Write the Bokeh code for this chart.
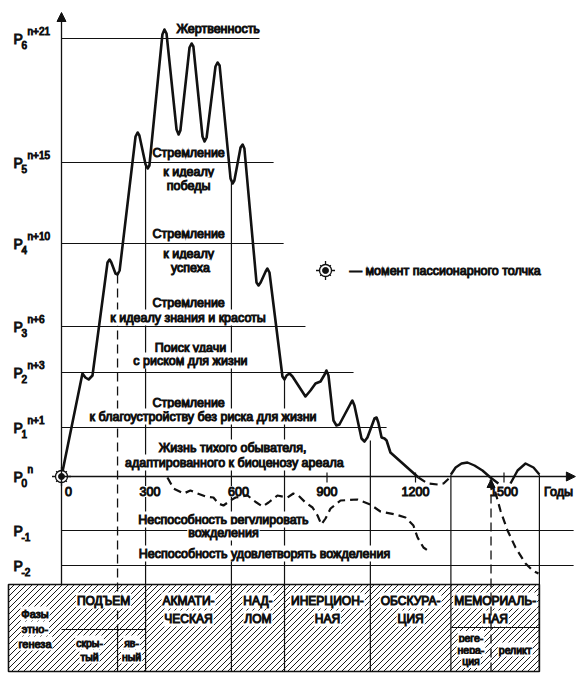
from bokeh.plotting import figure
from bokeh.models import Range1d, Arrow, NormalHead
from bokeh.core.properties import value
from bokeh.embed import file_html
from bokeh.resources import INLINE

FONT = "Liberation Sans"
INK = "#111111"

# ------------------------------------------------------------------ data
# passionarity levels (level units, P0 = 0)
level_sub = ["6", "5", "4", "3", "2", "1", "0", "-1", "-2"]
level_sup = ["n+21", "n+15", "n+10", "n+6", "n+3", "n+1", "n", "", ""]
level_y = [438, 314, 233, 150, 104, 49, 0, -54, -89]
level_end = [671, 719, 753, 827, 990, 1102, 1742, 1736, 1736]

tick_years = [0, 300, 600, 900, 1200, 1500]
tick_labels = ["0", "300", "600", "900", "1200", "1500"]

# main passionarity curve
curve_years = [0, 71, 81, 92, 105, 156, 163, 169, 183, 190, 197, 251, 258, 264,
               285, 292, 298, 342, 349, 356, 390, 397, 403, 434, 441, 447,
               478, 485, 492, 522, 529, 536, 573, 580, 586, 607, 614, 620,
               661, 668, 675, 692, 698, 705, 749, 756, 763, 773, 783,
               827, 844, 861, 878, 892, 898, 905, 922, 932, 942,
               980, 986, 993, 1017, 1027, 1037, 1061, 1068, 1074,
               1085, 1095, 1102, 1115, 1210]
curve_level = [0, 103, 99, 97, 101, 214, 217, 214, 203, 202, 206, 340, 344, 341,
               312, 308, 311, 442, 447, 443, 347, 342, 346, 429, 433, 430,
               340, 335, 339, 410, 414, 411, 298, 293, 296, 329, 332, 328,
               194, 191, 194, 205, 208, 204, 100, 97, 101, 103, 100,
               80, 86, 93, 95, 102, 106, 101, 56, 51, 52,
               73, 76, 71, 38, 35, 39, 58, 59, 54,
               39, 38, 36, 24, -1]

# dashed dip after obscuration
dip_years = [1210, 1241, 1275, 1295, 1320]
dip_level = [-1, -7, -8, -7, 0]

# memorial humps
hump1_years = [1320, 1336, 1356, 1376, 1400, 1427, 1454, 1481]
hump1_level = [2, 9, 13, 14, 11, 6, -1, -7]
hump2_years = [1522, 1546, 1573, 1600, 1620]
hump2_level = [-7, 6, 13, 9, 2]

# dashed curve below P0 (subpassionaries)
low_a_years = [359, 380, 414, 437, 461, 488, 515, 532, 549, 573, 590, 631, 651,
               681, 702, 732, 766, 786, 803, 827, 851, 868, 881, 895, 912, 946,
               1003, 1047, 1081, 1132, 1166, 1193, 1207, 1227, 1251]
low_a_level = [-1, -12, -17, -14, -17, -20, -21, -27, -29, -24, -21, -19, -24,
               -30, -26, -19, -21, -17, -19, -26, -31, -39, -48, -42, -32, -24,
               -23, -28, -35, -38, -41, -49, -61, -71, -76]

# dashed decline after the memorial phase
low_b_years = [1454, 1471, 1488, 1512, 1539, 1573, 1597, 1617]
low_b_level = [-3, -16, -34, -54, -71, -87, -94, -97]

# phases of ethnogenesis
phase_bounds = [0, 285, 576, 756, 1047, 1320, 1620]
phase_names = ["ПОДЪЕМ", "АКМАТИ-\nЧЕСКАЯ", "НАД-\nЛОМ", "ИНЕРЦИОН-\nНАЯ",
               "ОБСКУРА-\nЦИЯ", "МЕМОРИАЛЬ-\nНАЯ"]
sub_left = [0, 190, 1320, 1456]
sub_right = [190, 285, 1456, 1620]
sub_names = ["скры-\nтый", "яв-\nный", "реге-\nнера-\nция", "реликт"]
phase_title = ["Фазы", "этно-", "генеза"]

vline_years = [285, 576, 756, 1047, 1320, 1620]
vline_top = [312, 294, 97, 36, 2, 2]
hidden_split_year = 190      # скрытый / явный
hidden_split_top = 202
relict_split_year = 1456     # регенерация / реликт
relict_split_top = -3

motives = ["Жертвенность",
           "Стремление", "к идеалу", "победы",
           "Стремление", "к идеалу", "успеха",
           "Стремление", "к идеалу знания и красоты",
           "Поиск удачи", "с риском для жизни",
           "Стремление", "к благоустройству без риска для жизни",
           "Жизнь тихого обывателя,", "адаптированного к биоценозу ареала",
           "Неспособность регулировать", "вожделения",
           "Неспособность удовлетворять вожделения"]
motive_x = [531, 431, 431, 431, 431, 431, 437, 431, 429, 437, 437, 431, 480,
            580, 586, 549, 549, 688]
motive_y = [448, 324, 305, 291, 243, 223, 209, 174, 159, 129, 116, 74, 60,
            29, 14, -43, -56, -77]

legend_text = "— момент пассионарного толчка"

# ------------------------------------------------------------------ layout
W, H = 588, 676
PX = 1 / 0.295               # years per pixel
PY = 1.0                     # level units per pixel
X0, X1 = -61 * PX, 527 * PX
Y0, Y1 = -200.0, 476.0

TABLE_TOP, TABLE_BOT = -108, -195
TABLE_LEFT = X0 + 8 * PX
ROW_SPLIT = -153

p = figure(width=W, height=H, x_range=Range1d(X0, X1), y_range=Range1d(Y0, Y1),
           output_backend="svg", toolbar_location=None, min_border=0,
           x_axis_location=None, y_axis_location=None)
p.grid.visible = False
p.outline_line_color = None
p.background_fill_color = "white"

# ---- table of phases (hatched by hand)
table_right = phase_bounds[-1]
p.quad(left=[TABLE_LEFT], right=[table_right], top=[TABLE_TOP], bottom=[TABLE_BOT],
       fill_color="white", line_color=None)
h_px = (TABLE_TOP - TABLE_BOT) / PY
w_px = (table_right - TABLE_LEFT) / PX
step = 6.0
hx0, hy0, hx1, hy1 = [], [], [], []
k = -h_px
while k < w_px:
    a, b = k, k + h_px                  # x (px) at bottom and at top
    t0 = max(0.0, -a)
    t1 = h_px - max(0.0, b - w_px)
    if t1 > t0:
        hx0.append(TABLE_LEFT + (a + t0) * PX); hy0.append(TABLE_BOT + t0 * PY)
        hx1.append(TABLE_LEFT + (a + t1) * PX); hy1.append(TABLE_BOT + t1 * PY)
    k += step
p.segment(x0=hx0, y0=hy0, x1=hx1, y1=hy1, line_color=INK, line_width=0.95)
p.quad(left=[TABLE_LEFT], right=[table_right], top=[TABLE_TOP], bottom=[TABLE_BOT],
       fill_color=None, line_color=INK, line_width=1.6)

# ---- level lines
for yv, xe, sub in zip(level_y, level_end, level_sub):
    if sub == "0":
        continue
    p.segment(x0=[0], y0=[yv], x1=[xe], y1=[yv], line_color=INK, line_width=1.2)
p.add_layout(Arrow(end=NormalHead(size=9, fill_color=INK, line_color=INK),
                   x_start=0, y_start=0, x_end=level_end[level_sub.index("0")], y_end=0,
                   line_color=INK, line_width=1.3))

# ---- vertical phase lines
p.segment(x0=vline_years, y0=vline_top, x1=vline_years, y1=[TABLE_BOT] * len(vline_years),
          line_color=INK, line_width=1.2)
p.segment(x0=[hidden_split_year], y0=[hidden_split_top], x1=[hidden_split_year], y1=[ROW_SPLIT],
          line_color=INK, line_width=1.3, line_dash="9 5")
p.segment(x0=[hidden_split_year], y0=[ROW_SPLIT], x1=[hidden_split_year], y1=[TABLE_BOT],
          line_color=INK, line_width=1.2)
p.add_layout(Arrow(end=NormalHead(size=8, fill_color=INK, line_color=INK),
                   x_start=relict_split_year, y_start=TABLE_BOT,
                   x_end=relict_split_year, y_end=relict_split_top,
                   line_color=INK, line_width=1.3, line_dash="9 5"))
# sub-row lines
p.segment(x0=[sub_left[0], sub_left[2]], y0=[ROW_SPLIT, ROW_SPLIT + 2],
          x1=[sub_right[1], sub_right[3]], y1=[ROW_SPLIT, ROW_SPLIT + 2],
          line_color=INK, line_width=1.2)

# ---- y axis
p.add_layout(Arrow(end=NormalHead(size=9, fill_color=INK, line_color=INK),
                   x_start=0, y_start=TABLE_TOP, x_end=0, y_end=Y1 - 12 * PY,
                   line_color=INK, line_width=1.3))

# ---- x ticks
TXT = dict(text_font=value(FONT), text_color=INK, text_outline_color=INK,
           text_baseline="middle")
on_line = [t > 0 and min(abs(t - b) for b in phase_bounds) <= 40 for t in tick_years]
minor = [t for t, o in zip(tick_years, on_line) if t > 0 and not o]
p.segment(x0=minor, y0=[4] * len(minor), x1=minor, y1=[-6] * len(minor),
          line_color=INK, line_width=1.2)
lab_on = [(t, s) for t, s, o in zip(tick_years, tick_labels, on_line) if o]
lab_free = [(t, s) for t, s, o in zip(tick_years, tick_labels, on_line) if not o and t > 0]
p.text(x=[t for t, _ in lab_on], y=[-15] * len(lab_on), text=[s for _, s in lab_on],
       text_font_size="12.5px", text_align="center", background_fill_color="white",
       padding=1, **TXT)
p.text(x=[t for t, _ in lab_free], y=[-15] * len(lab_free), text=[s for _, s in lab_free],
       text_font_size="12.5px", text_align="center", **TXT)
p.text(x=[0], y=[-15], text=[tick_labels[0]], x_offset=7, text_font_size="12.5px",
       text_align="center", **TXT)
p.text(x=[X1 - 30 * PX], y=[-15], text=["Годы"], text_font_size="12.5px",
       text_align="center", **TXT)

# ---- level labels P
LX = X0 + 13 * PX
p.text(x=[LX] * len(level_y), y=level_y, text=["P"] * len(level_y),
       text_font_size="14px", text_align="left", **TXT)
p.text(x=[LX] * len(level_y), y=level_y, text=level_sub, x_offset=8, y_offset=6,
       text_font_size="10px", text_align="left", **TXT)
p.text(x=[LX] * len(level_y), y=level_y, text=level_sup, x_offset=14, y_offset=-7,
       text_font_size="10px", text_align="left", **TXT)

# ---- motivation texts
p.text(x=motive_x, y=motive_y, text=motives, text_font_size="12.5px",
       text_align="center", background_fill_color="white", padding=1, **TXT)

# ---- phase names in the table
tx, ty, tt = [], [], []
for i, name in enumerate(phase_names):
    cx = (phase_bounds[i] + phase_bounds[i + 1]) / 2
    for j, line in enumerate(name.split("\n")):
        tx.append(cx); ty.append(-124 - 18 * j); tt.append(line)
p.text(x=tx, y=ty, text=tt, text_font_size="12px", text_align="center",
       background_fill_color="white", padding=1, **TXT)
sx, sy, st = [], [], []
for l, r, name in zip(sub_left, sub_right, sub_names):
    lines = name.split("\n")
    stp = 14 if len(lines) < 3 else 11.5
    top = -173 + stp * (len(lines) - 1) / 2
    for j, line in enumerate(lines):
        sx.append((l + r) / 2); sy.append(top - stp * j); st.append(line)
p.text(x=sx, y=sy, text=st, text_font_size="10.5px", text_align="center",
       background_fill_color="white", padding=1, **TXT)
p.text(x=[(TABLE_LEFT + 0) / 2] * 3, y=[-137, -152, -167], text=phase_title,
       text_font_size="11px", text_align="center",
       background_fill_color="white", padding=1, **TXT)

# ---- curves
p.line(curve_years, curve_level, line_color=INK, line_width=2.6, line_join="round")
p.line(hump1_years, hump1_level, line_color=INK, line_width=2.4, line_join="round")
p.line(hump2_years, hump2_level, line_color=INK, line_width=2.4, line_join="round")
p.line(dip_years, dip_level, line_color=INK, line_width=2.2, line_dash="8 5")
p.line(low_a_years, low_a_level, line_color=INK, line_width=2.2, line_dash="8 5",
       line_join="round")
p.line(low_b_years, low_b_level, line_color=INK, line_width=2.2, line_dash="8 5",
       line_join="round")


# ---- passionary push symbol
def sun(x, y):
    p.scatter([x], [y], marker="x", size=15, line_color=INK, line_width=1.3)
    p.scatter([x], [y], marker="cross", size=19, line_color=INK, line_width=1.3)
    p.scatter([x], [y], marker="circle", size=12, fill_color="white", line_color=INK,
              line_width=1.3)
    p.scatter([x], [y], marker="circle", size=6, fill_color=INK, line_color=INK)


sun(0, 0)
LEG_X, LEG_Y = 895, 206
sun(LEG_X, LEG_Y)
p.text(x=[LEG_X], y=[LEG_Y], text=[legend_text], x_offset=24, text_font_size="12.5px",
       text_align="left", **TXT)

open("out.html", "w").write(file_html(p, INLINE))
